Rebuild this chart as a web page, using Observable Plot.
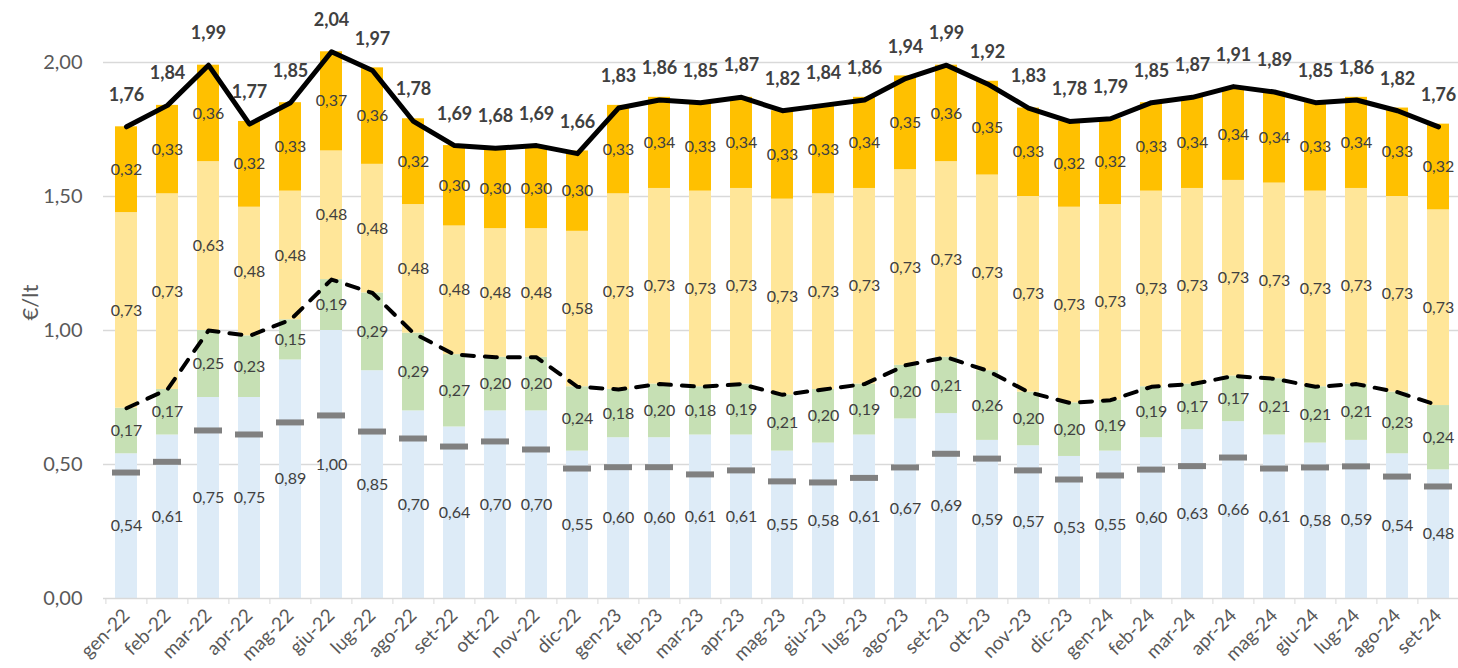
<!DOCTYPE html>
<html>
<head>
<meta charset="utf-8">
<script src="https://cdn.jsdelivr.net/npm/d3@7"></script>
<script src="https://cdn.jsdelivr.net/npm/@observablehq/plot@0.6"></script>
<style>
  html, body { margin: 0; padding: 0; background: #ffffff; }
  #chart svg { display: block; }
</style>
</head>
<body>
<div id="chart"></div>
<script>
const months = ["gen-22","feb-22","mar-22","apr-22","mag-22","giu-22","lug-22","ago-22","set-22","ott-22","nov-22","dic-22",
  "gen-23","feb-23","mar-23","apr-23","mag-23","giu-23","lug-23","ago-23","set-23","ott-23","nov-23","dic-23",
  "gen-24","feb-24","mar-24","apr-24","mag-24","giu-24","lug-24","ago-24","set-24"];

// stacked components (€/lt)
const quotazione = [0.54,0.61,0.75,0.75,0.89,1.00,0.85,0.70,0.64,0.70,0.70,0.55,
  0.60,0.60,0.61,0.61,0.55,0.58,0.61,0.67,0.69,0.59,0.57,0.53,
  0.55,0.60,0.63,0.66,0.61,0.58,0.59,0.54,0.48];
const margine = [0.17,0.17,0.25,0.23,0.15,0.19,0.29,0.29,0.27,0.20,0.20,0.24,
  0.18,0.20,0.18,0.19,0.21,0.20,0.19,0.20,0.21,0.26,0.20,0.20,
  0.19,0.19,0.17,0.17,0.21,0.21,0.21,0.23,0.24];
const accise = [0.73,0.73,0.63,0.48,0.48,0.48,0.48,0.48,0.48,0.48,0.48,0.58,
  0.73,0.73,0.73,0.73,0.73,0.73,0.73,0.73,0.73,0.73,0.73,0.73,
  0.73,0.73,0.73,0.73,0.73,0.73,0.73,0.73,0.73];
const iva = [0.32,0.33,0.36,0.32,0.33,0.37,0.36,0.32,0.30,0.30,0.30,0.30,
  0.33,0.34,0.33,0.34,0.33,0.33,0.34,0.35,0.36,0.35,0.33,0.32,
  0.32,0.33,0.34,0.34,0.34,0.33,0.34,0.33,0.32];

// total price (solid line + bold labels)
const totale = [1.76,1.84,1.99,1.77,1.85,2.04,1.97,1.78,1.69,1.68,1.69,1.66,
  1.83,1.86,1.85,1.87,1.82,1.84,1.86,1.94,1.99,1.92,1.83,1.78,
  1.79,1.85,1.87,1.91,1.89,1.85,1.86,1.82,1.76];

// reference quotation (grey dash marks)
const riferimento = [0.47,0.51,0.627,0.612,0.657,0.683,0.623,0.597,0.567,0.586,0.556,0.485,
  0.49,0.49,0.463,0.478,0.437,0.433,0.45,0.489,0.54,0.522,0.478,0.444,
  0.459,0.481,0.494,0.526,0.485,0.489,0.493,0.455,0.418];

const seriesNames = ["quotazione","margine","accise","IVA"];
const seriesColors = ["#DDEBF7","#C6E0B4","#FFE699","#FFC000"];
const yTicks = [0, 0.5, 1, 1.5, 2];
const gridTicks = [0.5, 1, 1.5, 2];

const fmt = v => v.toFixed(2).replace(".", ",");

const seriesArrays = [quotazione, margine, accise, iva];
const long = months.flatMap((m, i) => seriesArrays.map((arr, j) => ({
  month: m, series: seriesNames[j], value: arr[i]
})));
const rows = months.map((m, i) => ({
  month: m,
  totale: totale[i],
  industriale: quotazione[i] + margine[i],
  riferimento: riferimento[i]
}));

const W = 1458, H = 668;
const mL = 103, mR = -4;
const step = (W - mR - mL) / months.length;
const textColor = "#404040";
const axisColor = "#595959";

const chart = Plot.plot({
  width: W,
  height: H,
  marginLeft: mL,
  marginRight: mR,
  marginTop: 62,
  marginBottom: 70,
  style: { fontFamily: "Lato, 'Open Sans', sans-serif", background: "#ffffff" },
  x: { type: "band", domain: months, paddingInner: 0.46, paddingOuter: 0.23, label: null },
  y: { domain: [0, 2], label: null },
  color: { domain: seriesNames, range: seriesColors },
  marks: [
    Plot.ruleY(gridTicks, { stroke: "#d9d9d9", strokeWidth: 1.5 }),
    Plot.barY(long, { x: "month", y: "value", fill: "series", z: "series", order: seriesNames }),
    Plot.ruleY([0], { stroke: "#d9d9d9", strokeWidth: 1.5 }),
    Plot.text(long, Plot.stackY({
      x: "month", y: "value", z: "series", order: seriesNames,
      text: d => fmt(d.value), fill: textColor, fontSize: 16, lineAnchor: "middle"
    })),
    Plot.tickY(rows, { x: "month", y: "riferimento", stroke: "#808080", strokeWidth: 6, insetLeft: -3, insetRight: -3 }),
    Plot.line(rows, { x: "month", y: "industriale", stroke: "#000000", strokeWidth: 4, strokeDasharray: "12,11", strokeLinecap: "round" }),
    Plot.line(rows, { x: "month", y: "totale", stroke: "#000000", strokeWidth: 5, strokeLinejoin: "round", strokeLinecap: "round" }),
    Plot.text(rows, { x: "month", y: "totale", text: d => fmt(d.totale), dy: -26, lineAnchor: "bottom",
      fontWeight: "bold", fontSize: 18, fill: textColor }),
    Plot.axisY({ ticks: yTicks, tickFormat: fmt, tickSize: 0, tickPadding: 21, fontSize: 20, fill: axisColor, label: null }),
    Plot.axisX({ tickSize: 6, tickFormat: () => "", dx: -step / 2, stroke: "#d9d9d9", label: null }),
    Plot.axisX({ tickSize: 0, tickRotate: -45, tickPadding: 14, fontSize: 19, fill: axisColor, label: null }),
    Plot.text(["€/lt"], { frameAnchor: "left", rotate: -90, dx: -73, dy: -10, fontSize: 22, fill: axisColor })
  ]
});

document.getElementById("chart").appendChild(chart);
</script>
</body>
</html>
